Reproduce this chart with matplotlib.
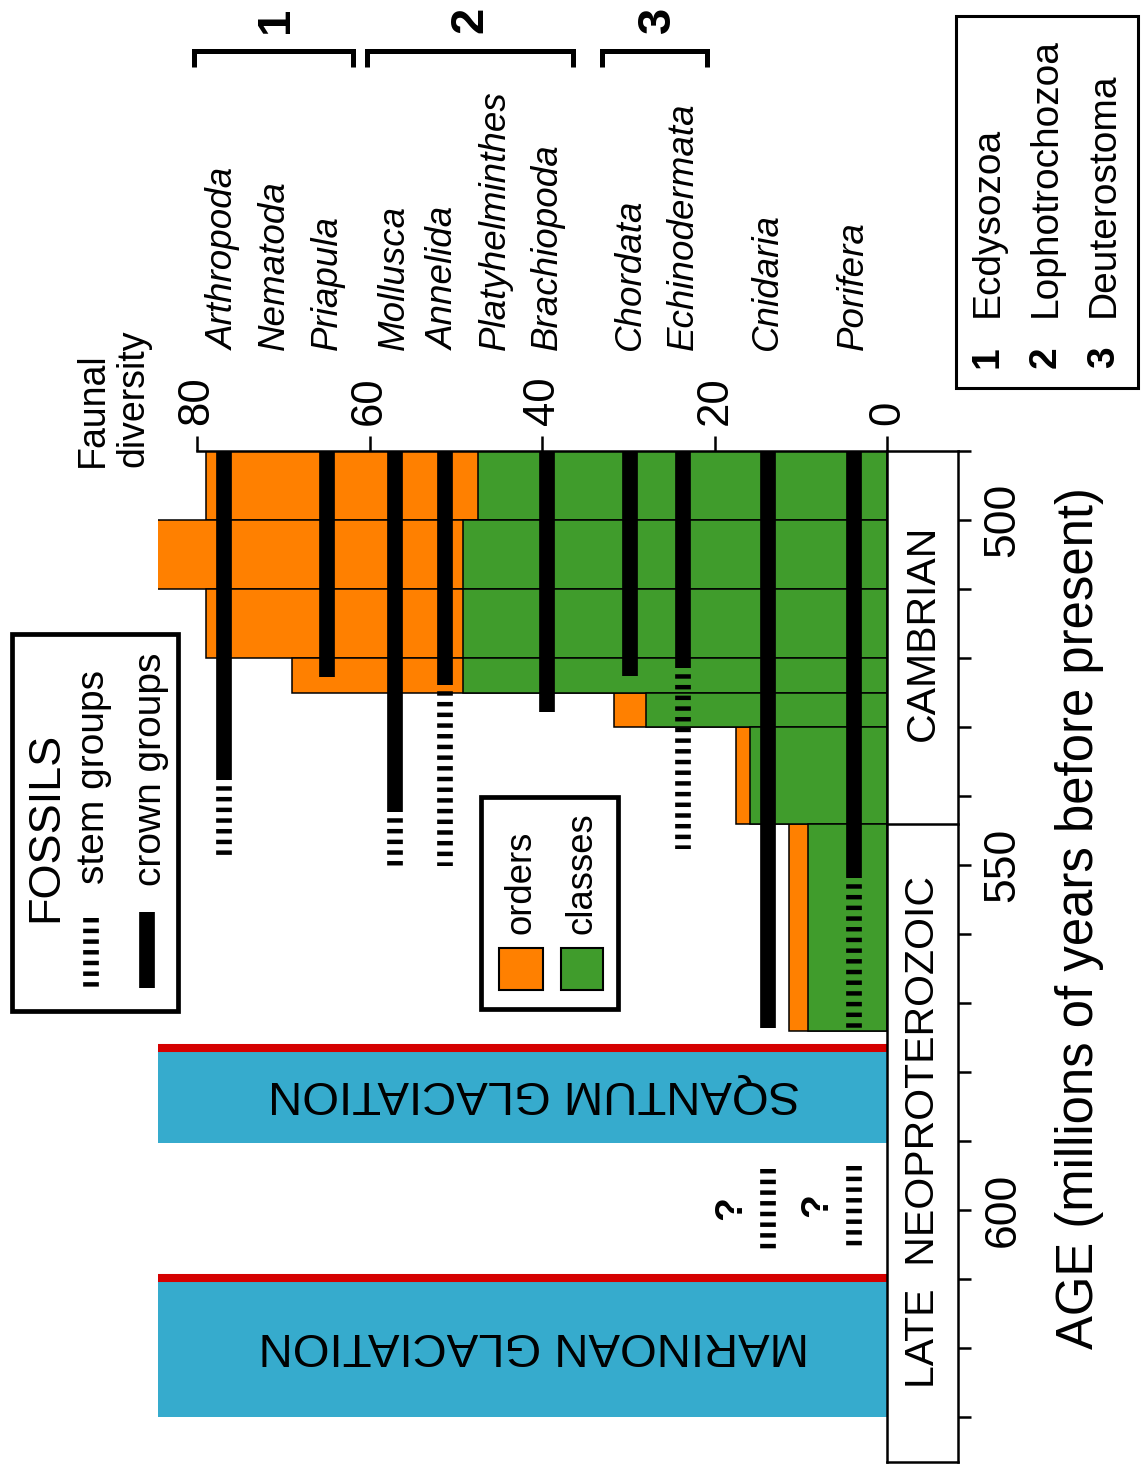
import matplotlib
matplotlib.use('Agg')
import matplotlib.pyplot as plt
from matplotlib import transforms, font_manager
from matplotlib.patches import Rectangle
from matplotlib.ticker import FixedLocator

plt.rcParams['font.family'] = ['Liberation Sans', 'DejaVu Sans']
plt.rcParams['lines.scale_dashes'] = False

# ---------------- data ----------------
bin_start = [490, 500, 510, 520, 525, 530, 544]
bin_end = [500, 510, 520, 525, 530, 544, 574]
orders = [79.0, 84.6, 79.0, 69.0, 31.7, 17.6, 11.4]
classes = [47.5, 49.2, 49.2, 49.2, 28.0, 15.9, 9.2]

phyla = ['Arthropoda', 'Nematoda', 'Priapula', 'Mollusca', 'Annelida',
         'Platyhelminthes', 'Brachiopoda', 'Chordata', 'Echinodermata',
         'Cnidaria', 'Porifera']
crown_start = 490
crown_end = [537.7, None, 522.7, 542.3, 523.9, None, 527.8, 522.6, 521.5, 573.6, 551.9]
stem_end = [549.0, None, None, 550.1, 550.2, None, None, None, 547.7, None, 573.6]

uncertain_phyla = ['Cnidaria', 'Porifera']
uncertain_start = [594.1, 593.6]
uncertain_end = [605.7, 605.2]

glaciations = ['SQANTUM GLACIATION', 'MARINOAN GLACIATION']
glac_start = [575.9, 609.3]
glac_end = [590.3, 630.0]

periods = ['CAMBRIAN', 'LATE  NEOPROTEROZOIC']
period_start = [490, 544]
period_end = [544, 636.5]

groups = ['Ecdysozoa', 'Lophotrochozoa', 'Deuterostoma']

div_ticks = [0, 20, 40, 60, 80]
age_ticks = list(range(490, 631, 10))
age_labels = ['500', '550', '600']

# ---------------- layout / style ----------------
ORANGE = '#FF8000'
GREEN = '#409C2C'
BLUE = '#36ABCD'
RED = '#D50000'
phylum_pos = [76.9, 71.1, 64.9, 57.1, 51.3, 45.4, 39.4, 29.8, 23.7, 13.9, 3.9]
XL, XR = 84.53, -8.17
YT, YB = 490, 636.5

installed = {f.name for f in font_manager.fontManager.ttflist}
if 'Liberation Sans Narrow' in installed:
    GLAC_FONT, GLAC_SIZE = ['Liberation Sans Narrow', 'Liberation Sans'], 40
else:
    GLAC_FONT, GLAC_SIZE = ['Liberation Sans', 'DejaVu Sans'], 34

W, H = 1143, 1469
fig = plt.figure(figsize=(W / 100, H / 100), dpi=100)
ax = fig.add_axes([158 / W, 1 - 1462 / H, 800 / W, 1011 / H])
ax.patch.set_visible(False)
ax.set_xlim(XL, XR)
ax.set_ylim(YB, YT)

# glaciations
for name, s, e in zip(glaciations, glac_start, glac_end):
    ax.barh((s + e) / 2, XL, height=e - s, left=0, color=BLUE, lw=0, zorder=0.5)
    ax.hlines(s + 0.55, 0, XL, color=RED, lw=5.8, zorder=0.6)
    ax.text(41, (s + 0.6 + e) / 2 - 0.4, name, rotation=180, ha='center', va='center',
            fontsize=GLAC_SIZE, family=GLAC_FONT, zorder=0.7)

# diversity bars
for s, e, o in zip(bin_start, bin_end, orders):
    ax.barh((s + e) / 2, o, height=e - s, left=0, color=ORANGE,
            edgecolor='black', lw=1.1, zorder=1)
for s, e, c in zip(bin_start, bin_end, classes):
    ax.barh((s + e) / 2, c, height=e - s, left=0, color=GREEN,
            edgecolor='black', lw=1.1, zorder=1.1)

# fossil ranges
FLW = 11.3
DASH = (3.2, (3.2, 4.5))
for p, x, ce, se in zip(phyla, phylum_pos, crown_end, stem_end):
    if ce is not None:
        ax.vlines(x, crown_start, ce, color='black', lw=FLW, capstyle='butt', zorder=3)
    if se is not None:
        ax.vlines(x, ce, se, color='black', lw=FLW, linestyles=[DASH],
                  capstyle='butt', zorder=3)
for p, s, e in zip(uncertain_phyla, uncertain_start, uncertain_end):
    x = phylum_pos[phyla.index(p)]
    ax.vlines(x, s, e, color='black', lw=FLW, linestyles=[(0, (3.2, 4.5))],
              capstyle='butt', zorder=3)
    ax.text(x + 4.2, (s + e) / 2 - 0.2, '?', rotation=90, ha='center', va='center',
            fontsize=28, fontweight='bold')

# period box
ax.plot([0, 0], [YT, YB], color='black', lw=1.8, clip_on=False, zorder=4)
for name, s, e in zip(periods, period_start, period_end):
    ax.plot([0, XR], [e, e], color='black', lw=1.8, clip_on=False, zorder=4)
    ax.text(XR / 2, (s + e) / 2 - (1.5 if e > 600 else 0.7), name, rotation=90,
            ha='center', va='center', fontsize=29.5)

# axes styling
for sp in ['left', 'bottom']:
    ax.spines[sp].set_visible(False)
ax.spines['top'].set_bounds(XR, 80)
for sp in ['top', 'right']:
    ax.spines[sp].set_linewidth(1.8)
ax.xaxis.tick_top()
ax.xaxis.set_major_locator(FixedLocator(div_ticks))
ax.set_xticklabels([str(t) for t in div_ticks], rotation=90)
ax.yaxis.tick_right()
ax.yaxis.set_major_locator(FixedLocator(age_ticks))
ax.set_yticklabels([str(t) if str(t) in age_labels else '' for t in age_ticks],
                   rotation=90, va='center')
ax.tick_params(axis='x', direction='out', length=10.5, width=1.8, pad=8, labelsize=31.5)
ax.tick_params(axis='y', direction='out', length=9.5, width=1.8, pad=8, labelsize=32)

# ---------------- overlay (pixel coords) ----------------
ov = fig.add_axes([0, 0, 1, 1], zorder=5)
ov.set_xlim(0, W)
ov.set_ylim(H, 0)
ov.axis('off')
ov.patch.set_visible(False)

# phylum labels (x in data coords, y in pixels)
bt = transforms.blended_transform_factory(ax.transData, ov.transData)
for p, x in zip(phyla, phylum_pos):
    ov.text(x, 350, p, transform=bt, rotation=90, ha='center', va='bottom',
            fontsize=26.5, style='italic')

ov.text(113, 467, 'Faunal\ndiversity', rotation=90, ha='center', va='bottom',
        multialignment='left', fontsize=27, linespacing=1.15)
ov.text(1080, 918, 'AGE (millions of years before present)', rotation=90,
        ha='center', va='center', fontsize=36.6)

# brackets
for (x0, x1), num, nx in zip([(194, 353), (367, 573), (602, 707)], ['1', '2', '3'],
                             [276, 470, 658]):
    ov.plot([x0, x0, x1, x1], [67, 50.5, 50.5, 67], color='black', lw=3.6,
            solid_joinstyle='miter', solid_capstyle='butt')
    ov.text(nx, 20, num, rotation=90, ha='center', va='center', fontsize=34,
            fontweight='bold')

# group legend
ov.add_patch(Rectangle((955.5, 15.5), 182, 372, fill=False, lw=2.2, ec='black'))
for i, g in enumerate(groups):
    cx = 988 + i * 58
    ov.text(cx, 357, str(i + 1), rotation=90, ha='center', va='center',
            fontsize=28, fontweight='bold')
    ov.text(cx, 317, g, rotation=90, ha='center', va='bottom', fontsize=28)

# fossils legend
ov.add_patch(Rectangle((12, 633.5), 166, 377, fill=False, lw=3.4, ec='black'))
ov.text(46, 922, 'FOSSILS', rotation=90, ha='center', va='bottom', fontsize=32.4)
ov.text(94, 884, 'stem groups', rotation=90, ha='center', va='bottom', fontsize=28)
ov.text(151, 886, 'crown groups', rotation=90, ha='center', va='bottom', fontsize=28)
ov.vlines(91, 918, 988, color='black', lw=FLW, linestyles=[(0, (3.2, 4.5))],
          capstyle='butt')
ov.vlines(147, 912, 988, color='black', lw=FLW, capstyle='butt')

# orders / classes legend
ov.add_patch(Rectangle((481, 797), 137, 212, fill=False, lw=3.4, ec='black'))
ov.add_patch(Rectangle((499, 948), 44, 42, fc=ORANGE, ec='black', lw=1.5))
ov.add_patch(Rectangle((561, 948), 42, 42, fc=GREEN, ec='black', lw=1.5))
ov.text(521, 934, 'orders', rotation=90, ha='center', va='bottom', fontsize=26.3)
ov.text(582, 934, 'classes', rotation=90, ha='center', va='bottom', fontsize=26.3)

fig.savefig('out.png', dpi=100)
